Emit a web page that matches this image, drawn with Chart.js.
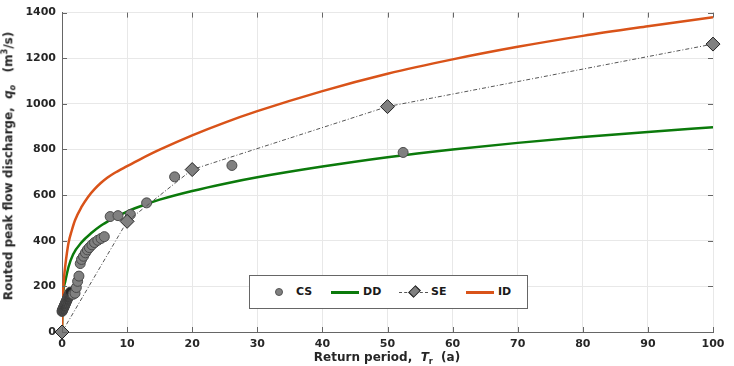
<!DOCTYPE html>
<html>
<head>
<meta charset="UTF-8">
<title>Routed peak flow discharge</title>
<script src="https://cdn.jsdelivr.net/npm/chart.js"></script>
<style>
  body { margin: 0; background: #fff; font-family: "DejaVu Sans", sans-serif; }
  #wrap { position: relative; width: 734px; height: 366px; }
  .ttl { position: absolute; font-weight: bold; font-size: 12px; color: #262626; white-space: nowrap; }
  .ttl i { font-style: italic; }
  .ttl sub, .ttl sup { font-size: 8px; }
  #ytitle { left: 9px; top: 166px; transform: translate(-50%, -50%) rotate(-90deg); }
  #xtitle { left: 387px; top: 358px; transform: translate(-50%, -50%); }
  #legend { position: absolute; left: 249px; top: 275px; width: 277px; height: 32px; border: 1px solid #666; background: #fff; }
  #legend .it { position: absolute; }
  #legend .tx { position: absolute; top: 9px; font-weight: bold; font-size: 11px; color: #1a1a1a; }
</style>
</head>
<body>
<div id="wrap">
  <canvas id="c" width="734" height="366"></canvas>
  <div class="ttl" id="ytitle">Routed peak flow discharge, &nbsp;<i>q</i><sub><i>o</i></sub> &nbsp;&nbsp;(m<sup>3</sup>/s)</div>
  <div class="ttl" id="xtitle">Return period, &nbsp;<i>T</i><sub>r</sub> &nbsp;(a)</div>
  <div id="legend">
    <div class="it" style="left:25px;top:12px;width:8px;height:8px;border-radius:50%;background:#808080;border:1px solid #555;box-sizing:border-box"></div>
    <div class="tx" style="left:46px">CS</div>
    <div class="it" style="left:81px;top:15px;width:28px;height:2.5px;background:#0b7a0b"></div>
    <div class="tx" style="left:113px">DD</div>
    <div class="it" style="left:149px;top:16px;width:29px;border-top:1px dashed #555"></div>
    <div class="it" style="left:160px;top:11px;width:9px;height:9px;background:#808080;border:1px solid #222;transform:rotate(45deg) scale(0.85,1.15);box-sizing:border-box"></div>
    <div class="tx" style="left:181px">SE</div>
    <div class="it" style="left:216px;top:15px;width:28px;height:2.5px;background:#d95319"></div>
    <div class="tx" style="left:248px">ID</div>
  </div>
</div>
<script>
// observed points (CS)
const csT = [0.0, 0.05, 0.1, 0.15, 0.2, 0.25, 0.3, 0.35, 0.4, 0.45, 0.5, 0.55, 0.6, 0.65, 0.7,
             0.75, 0.8, 0.85, 0.9, 0.95, 1.0, 1.05, 1.1, 1.15, 1.2, 1.25, 1.3,
             1.7, 2.0, 2.2, 2.4, 2.6, 2.8, 3.0, 3.3, 3.6, 3.9, 4.2, 4.6, 5.0, 5.5, 6.0, 6.5,
             7.4, 8.6, 10.5, 13.0, 17.3, 26.1, 52.4];
const csQ = [90, 94, 97, 100, 104, 107, 110, 113, 117, 120, 123, 127, 130, 133, 137,
             140, 143, 147, 150, 153, 157, 160, 163, 166, 170, 172, 175,
             165, 170, 195, 222, 245, 300, 318, 332, 347, 360, 370, 382, 392, 402, 410, 418,
             506, 510, 515, 566, 680, 730, 787];

// SE
const seT = [0, 10, 20, 50, 100];
const seQ = [0, 485, 712, 988, 1262];

// DD curve
const ddT = [0, 0.05, 0.15, 0.3, 0.5, 1, 1.7, 3, 4.6, 6, 7.6, 10, 13, 15, 20, 25, 30, 40, 50, 60, 70, 80, 90, 100];
const ddQ = [0, 90, 160, 198, 222, 285, 340, 393, 436, 467, 494, 528, 561, 580, 618, 650, 678, 725, 766, 800, 829, 855, 877, 897];

// ID curve
const idT = [0, 0.05, 0.1, 0.2, 0.35, 0.5, 0.75, 1, 1.5, 2, 3, 4, 5, 6, 7, 8, 10, 12, 15, 20, 25, 30, 40, 50, 60, 70, 80, 90, 100];
const idQ = [0, 85, 140, 195, 250, 290, 345, 390, 445, 490, 548, 592, 626, 654, 677, 696, 727, 757, 799, 862, 918, 968, 1056, 1132, 1195, 1250, 1298, 1340, 1380];

const xTicks = [0, 10, 20, 30, 40, 50, 60, 70, 80, 90, 100];
const yTicks = [0, 200, 400, 600, 800, 1000, 1200, 1400];

const pts = (xs, ys) => xs.map((x, i) => ({ x: x, y: ys[i] }));

Chart.defaults.font.family = '"DejaVu Sans", sans-serif';

// inward tick marks on all four sides
const inTicks = {
  id: 'inTicks',
  afterDatasetsDraw(chart) {
    const { ctx, chartArea: a, scales: { x, y } } = chart;
    ctx.save();
    ctx.strokeStyle = '#666';
    ctx.lineWidth = 1;
    ctx.beginPath();
    xTicks.forEach(v => {
      const px = Math.round(x.getPixelForValue(v)) + 0.5;
      ctx.moveTo(px, a.bottom); ctx.lineTo(px, a.bottom - 5);
      ctx.moveTo(px, a.top); ctx.lineTo(px, a.top + 5);
    });
    yTicks.forEach(v => {
      const py = Math.round(y.getPixelForValue(v)) + 0.5;
      ctx.moveTo(a.left, py); ctx.lineTo(a.left + 5, py);
      ctx.moveTo(a.right, py); ctx.lineTo(a.right - 5, py);
    });
    ctx.stroke();
    ctx.restore();
  }
};

new Chart(document.getElementById('c'), {
  type: 'scatter',
  data: {
    datasets: [
      { label: 'SE', data: pts(seT, seQ), showLine: true, borderColor: '#555', borderWidth: 1,
        borderDash: [4, 2, 1, 2], pointStyle: 'rectRot', pointRadius: 7, pointBackgroundColor: '#808080',
        pointBorderColor: '#222', pointBorderWidth: 1, clip: false, order: 1 },
      { label: 'CS', data: pts(csT, csQ), pointRadius: 5,
        // the densely overlapping points near the origin read as almost black
        pointBackgroundColor: c => (c.raw && c.raw.x < 1.5 ? '#262626' : '#808080'),
        pointBorderColor: '#4a4a4a', pointBorderWidth: 1, clip: false, order: 2 },
      { label: 'ID', data: pts(idT, idQ), showLine: true, borderColor: '#d95319', borderWidth: 2.5,
        pointRadius: 0, cubicInterpolationMode: 'monotone', order: 3 },
      { label: 'DD', data: pts(ddT, ddQ), showLine: true, borderColor: '#0b7a0b', borderWidth: 2.5,
        pointRadius: 0, cubicInterpolationMode: 'monotone', order: 4 }
    ]
  },
  options: {
    responsive: false,
    animation: false,
    layout: { padding: { left: 0, right: 21, top: 8, bottom: 0 } },
    plugins: { legend: { display: false }, tooltip: { enabled: false } },
    scales: {
      x: {
        type: 'linear', min: 0, max: 100,
        afterFit: s => { s.height = 34; },
        afterBuildTicks: s => { s.ticks = xTicks.map(v => ({ value: v })); },
        grid: { color: '#e8e8e8', drawTicks: false },
        border: { color: '#666' },
        ticks: { padding: 6, color: '#262626', font: { size: 11, weight: 'bold' }, callback: v => String(v) }
      },
      y: {
        type: 'linear', min: 0, max: 1400,
        afterFit: s => { s.width = 62; },
        afterBuildTicks: s => { s.ticks = yTicks.map(v => ({ value: v })); },
        grid: { color: '#e8e8e8', drawTicks: false },
        border: { color: '#666' },
        ticks: { padding: 6, color: '#262626', font: { size: 11, weight: 'bold' }, callback: v => String(v) }
      }
    }
  },
  plugins: [inTicks]
});
</script>
</body>
</html>
